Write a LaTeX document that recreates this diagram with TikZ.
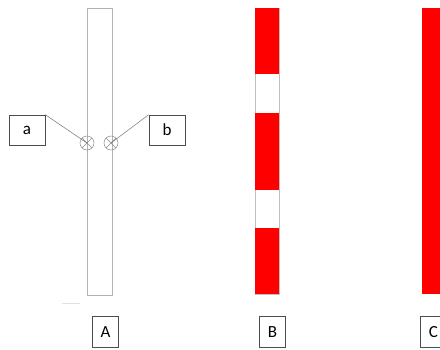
\documentclass[tikz,border=0pt]{standalone}
\usepackage{fontspec}
\setmainfont{Carlito}
\begin{document}
\begin{tikzpicture}[x=1pt,y=-1pt,
  strip/.style={draw=black!30, line width=0.8pt},
  redseg/.style={fill=red, draw=none},
  lbl/.style={draw=black!70, line width=0.6pt, font=\fontsize{17}{17}\selectfont, inner sep=0pt, minimum width=#1, minimum height=30},
  lead/.style={draw=black!55, line width=0.5pt},
  cross/.style={circle, draw=black!45, line width=0.5pt, minimum size=14, inner sep=0pt, path picture={
     \draw[black!45, line width=0.5pt] (path picture bounding box.north west) -- (path picture bounding box.south east)
       (path picture bounding box.north east) -- (path picture bounding box.south west);}}]
\useasboundingbox (0,0) rectangle (440,349);
% strip A
\node[strip, minimum width=25, minimum height=287, inner sep=0pt] (stripA) at (99.5,151.5) {};
\draw[black!12, line width=0.6pt] (62,303) coordinate (fa) -- (80,303) coordinate (fb);
\node[cross] (ca) at (87,143) {};
\node[cross] (cb) at (111,143) {};
\node[lbl=36] (la) at (27,130) {a};
\node[lbl=36] (lb) at (167,130) {b};
\draw[lead] (la.north east) -- (ca.center);
\draw[lead] (lb.north west) -- (cb.center);
% strip B
\fill[red] (255,8) rectangle (279,74);
\fill[red] (255,113) rectangle (279,190);
\fill[red] (255,228) rectangle (279,294);
\node[strip, draw=black!25, minimum width=24, minimum height=286, inner sep=0pt] (stripB) at (267,151) {};
\fill[red] (255,8) rectangle (279,74);
\fill[red] (255,113) rectangle (279,190);
\fill[red] (255,228) rectangle (279,294);
% strip C
\node[redseg, minimum width=24, minimum height=286, inner sep=0pt, anchor=north west] (stripC) at (422,8) {};
% labels
\node[lbl=26, minimum height=31] (lA) at (105.5,332) {A};
\node[lbl=26, minimum height=31] (lB) at (272.5,332) {B};
\node[lbl=26, minimum height=31, anchor=west] (lC) at (420,332) {C};
\end{tikzpicture}
\end{document}
